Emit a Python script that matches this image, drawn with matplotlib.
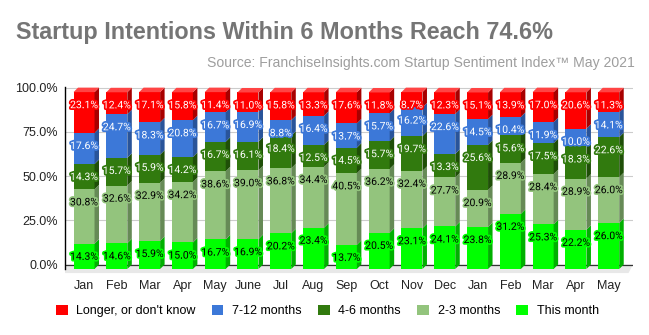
import matplotlib.pyplot as plt
import matplotlib.patheffects as pe
from matplotlib.patches import Polygon, Patch
import numpy as np

# data
months = ['Jan', 'Feb', 'Mar', 'Apr', 'May', 'June', 'Jul', 'Aug', 'Sep',
          'Oct', 'Nov', 'Dec', 'Jan', 'Feb', 'Mar', 'Apr', 'May']
this_month = [14.3, 14.6, 15.9, 15.0, 16.7, 16.9, 20.2, 23.4, 13.7,
              20.5, 23.1, 24.1, 23.8, 31.2, 25.3, 22.2, 26.0]
two_three = [30.8, 32.6, 32.9, 34.2, 38.6, 39.0, 36.8, 34.4, 40.5,
             36.2, 32.4, 27.7, 20.9, 28.9, 28.4, 28.9, 26.0]
four_six = [14.3, 15.7, 15.9, 14.2, 16.7, 16.1, 18.4, 12.5, 14.5,
            15.7, 19.7, 13.3, 25.6, 15.6, 17.5, 18.3, 22.6]
seven_twelve = [17.6, 24.7, 18.3, 20.8, 16.7, 16.9, 8.8, 16.4, 13.7,
                15.7, 16.2, 22.6, 14.5, 10.4, 11.9, 10.0, 14.1]
longer = [23.1, 12.4, 17.1, 15.8, 11.4, 11.0, 15.8, 13.3, 17.6,
          11.8, 8.7, 12.3, 15.1, 13.9, 17.0, 20.6, 11.3]
yticks = [0, 25, 50, 75, 100]

series = [
    # name, values, front, side, top, text colour
    ('This month', this_month, '#00ff00', '#00b000', '#4dff4d', 'black'),
    ('2-3 months', two_three, '#93c47d', '#668a56', '#b0d6a0', 'black'),
    ('4-6 months', four_six, '#317a0e', '#1f4f08', '#5a9a3a', 'white'),
    ('7-12 months', seven_twelve, '#3c78d8', '#29549a', '#6a98e3', 'white'),
    ('Longer, or don\'t know', longer, '#ff0000', '#a80000', '#ff4444', 'white'),
]

plt.rcParams['font.family'] = ['Liberation Sans', 'DejaVu Sans']

fig = plt.figure(figsize=(6.49, 3.35), dpi=100)
ax = fig.add_axes([65 / 649, 66 / 335, 568 / 649, 182 / 335])
xl, xr = -0.58, 16.74
ax.set_xlim(xl, xr)
ax.set_ylim(0, 103)

# 3d depth in data units (about 4.5 px)
ddx = 4.5 / 32.8
ddy = 4.5 / 1.767
w = 21 / 32.8

# back wall grid + floor
for v in yticks[1:]:
    ax.plot([xl, xr], [v + ddy] * 2, color='#cccccc', lw=0.8, zorder=0)
ax.add_patch(Polygon([(xl, ddy), (xr, ddy), (xr - ddx, -2.3), (xl, -2.3)],
                     closed=True, fc='#e8e8e8', ec='none', clip_on=False, zorder=0))
ax.plot([xl, xr], [ddy, ddy], color='#333333', lw=0.9, zorder=0.5)

# bars
x = np.arange(len(months))
labels = []
for i in x:
    bottom = 0
    for k, (name, vals, fc, sc, tc, txc) in enumerate(series):
        v = vals[i]
        x0, x1 = i - w / 2, i + w / 2
        y0, y1 = bottom, bottom + v
        ax.add_patch(Polygon([(x0, y0), (x1, y0), (x1, y1), (x0, y1)],
                             closed=True, fc=fc, ec='none', clip_on=False, zorder=2))
        ax.add_patch(Polygon([(x1, y0), (x1 + ddx, y0 + ddy), (x1 + ddx, y1 + ddy), (x1, y1)],
                             closed=True, fc=sc, ec='none', clip_on=False, zorder=2))
        if k == len(series) - 1:
            ax.add_patch(Polygon([(x0, y1), (x0 + ddx, y1 + ddy), (x1 + ddx, y1 + ddy), (x1, y1)],
                                 closed=True, fc=tc, ec='none', clip_on=False, zorder=2))
        labels.append((i, y1, v, fc, txc))
        bottom = y1

# value labels, ~13px below the top of each segment
for i, y1, v, fc, txc in labels:
    ax.annotate(f'{v:.1f}%', xy=(i, y1), xytext=(0, -9.4), textcoords='offset points',
                ha='center', va='center', fontsize=7.5, color=txc, family='Roboto',
                zorder=5, annotation_clip=False,
                path_effects=[pe.withStroke(linewidth=2.5, foreground=fc)])

# axes
ax.set_yticks([v + ddy for v in yticks])
ax.set_yticklabels([f'{v:.1f}%' for v in yticks], fontsize=9, color='#222222')
ax.set_xticks(x)
ax.set_xticklabels(months, fontsize=9, color='#222222')
ax.tick_params(axis='y', length=0, pad=5)
ax.tick_params(axis='x', length=0, pad=8)
for s in ['top', 'right', 'bottom']:
    ax.spines[s].set_visible(False)
ax.spines['left'].set_color('black')
ax.spines['left'].set_linewidth(1)

# titles
fig.text(16 / 649, 1 - 39 / 335, 'Startup Intentions Within 6 Months Reach 74.6%',
         fontsize=16.8, fontweight='bold', color='#757575', ha='left', va='baseline')
fig.text(635 / 649, 1 - 66.5 / 335,
         'Source: FranchiseInsights.com Startup Sentiment Index\u2122 May 2021',
         fontsize=10.1, color='#9e9e9e', ha='right', va='baseline')

# legend
handles = [Patch(fc=s[2], ec='none', label=s[0]) for s in series[::-1]]
fig.legend(handles=handles, loc='center', bbox_to_anchor=(327.5 / 649, 1 - 311 / 335),
           ncol=5, frameon=False, fontsize=9, handlelength=0.9, handleheight=0.9,
           handletextpad=0.72, columnspacing=1.3, borderaxespad=0, borderpad=0)

fig.savefig('out.png', dpi=100)
